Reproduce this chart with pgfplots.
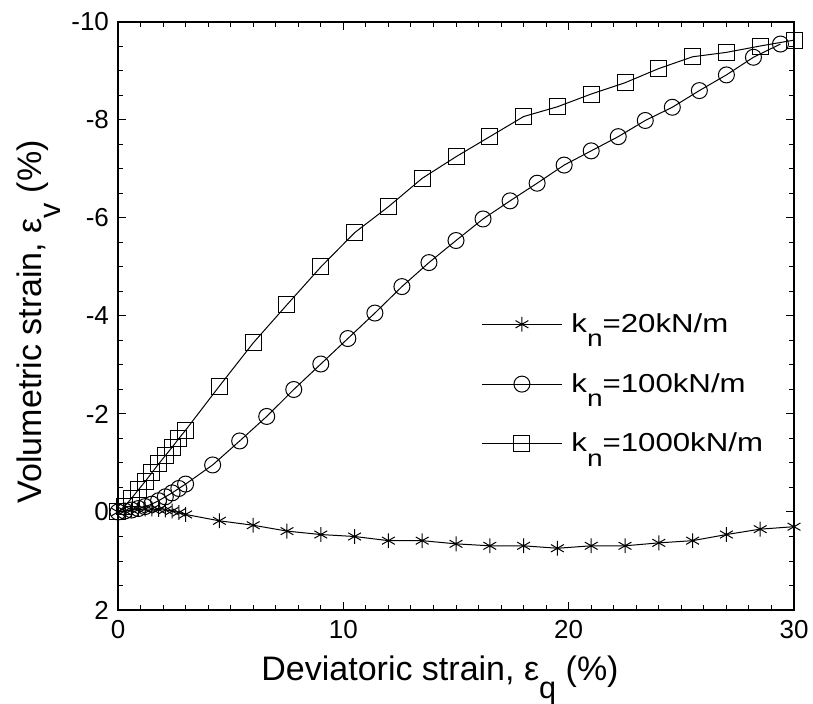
\documentclass[border=0pt]{standalone}
\usepackage{fontspec}
\setmainfont{Liberation Sans}
\newfontfamily\legfont{Liberation Sans}[FakeStretch=1.2]
\usepackage{pgfplots}
\pgfplotsset{compat=1.18}

\newcommand{\sub}[1]{\raisebox{-0.55em}{\scalebox{0.9}{#1}}}

\begin{document}
\begin{tikzpicture}
\begin{axis}[
    scale only axis,
    width=338pt,
    height=294pt,
    xmin=0, xmax=30,
    ymin=-10, ymax=2,
    y dir=reverse,
    xtick={0,10,20,30},
    ytick={-10,-8,-6,-4,-2,0,2},
    minor x tick num=9,
    minor y tick num=3,
    tick align=inside,
    major tick length=4pt,
    minor tick length=2.5pt,
    tick style={black, line width=0.5pt},
    axis line style={line width=0.8pt},
    /pgf/number format/assume math mode=true,
    ticklabel style={font=\fontsize{13}{15}\selectfont},
    xticklabel style={yshift=-1.5pt},
    yticklabel style={xshift=-1pt},
    label style={font=\fontsize{17}{20}\selectfont},
    xlabel={Deviatoric strain, ε\sub{q} (\%)},
    ylabel={Volumetric strain, ε\sub{v} (\%)},
    xlabel style={at={([xshift=-8pt,yshift=-35pt]axis description cs:0.5,0)}, anchor=base},
    ylabel style={at={([xshift=-38pt]axis description cs:0,0.49)}, anchor=base},
    clip=false,
    legend style={
        draw=none,
        fill=none,
        inner sep=0pt,
        at={(0.537,0.512)},
        anchor=north west,
        font=\legfont\fontsize{13}{15}\selectfont,
        row sep=15pt,
        legend cell align=left,
        /tikz/every odd column/.append style={column sep=2.5pt}
    },
    legend image code/.code={
        \draw[mark repeat=2,mark phase=2,#1] plot coordinates {(0pt,0pt) (20pt,0pt) (40pt,0pt)};
    },
]

\addplot[black, line width=0.5pt, mark=asterisk, mark size=3.7pt] coordinates {
(0,0) (0.3,-0.02) (0.6,-0.04) (0.9,-0.05) (1.2,-0.06) (1.5,-0.06) (1.8,-0.05)
(2.1,-0.04) (2.4,-0.02) (2.7,0.01) (3.0,0.05) (4.5,0.18) (6.0,0.27) (7.5,0.39)
(9.0,0.46) (10.5,0.50) (12.0,0.585) (13.5,0.585) (15.0,0.65) (16.5,0.69)
(18.0,0.69) (19.5,0.74) (21.0,0.69) (22.5,0.69) (24.0,0.63) (25.5,0.585)
(27.0,0.46) (28.5,0.35) (30.0,0.30)};
\addlegendentry{k\sub{n}=20kN/m}

\addplot[black, line width=0.5pt, mark=o, mark size=4pt] coordinates {
(0,0) (0.3,-0.02) (0.6,-0.04) (0.9,-0.07) (1.2,-0.11) (1.5,-0.16) (1.8,-0.23)
(2.1,-0.31) (2.4,-0.39) (2.7,-0.48) (3.0,-0.57) (4.2,-0.96) (5.4,-1.45)
(6.6,-1.95) (7.8,-2.50) (9.0,-3.02) (10.2,-3.54) (11.4,-4.06) (12.6,-4.60)
(13.8,-5.09) (15.0,-5.54) (16.2,-5.98) (17.4,-6.35) (18.6,-6.71) (19.8,-7.08)
(21.0,-7.37) (22.2,-7.66) (23.4,-7.99) (24.6,-8.26) (25.8,-8.60) (27.0,-8.92)
(28.2,-9.28) (29.4,-9.55)};
\addlegendentry{k\sub{n}=100kN/m}

\addplot[black, line width=0.5pt, mark=square, mark size=4pt] coordinates {
(0,0) (0.3,-0.12) (0.6,-0.28) (0.9,-0.45) (1.2,-0.62) (1.5,-0.80) (1.8,-0.98)
(2.1,-1.15) (2.4,-1.32) (2.7,-1.50) (3.0,-1.67) (4.5,-2.57) (6.0,-3.45)
(7.5,-4.23) (9.0,-5.00) (10.5,-5.70) (12.0,-6.23) (13.5,-6.81) (15.0,-7.25)
(16.5,-7.66) (18.0,-8.07) (19.5,-8.27) (21.0,-8.53) (22.5,-8.76) (24.0,-9.05)
(25.5,-9.29) (27.0,-9.38) (28.5,-9.51) (30.0,-9.63)};
\addlegendentry{k\sub{n}=1000kN/m}

\end{axis}
\pgfresetboundingbox
\path[use as bounding box] (-59pt,-47pt) rectangle (347.5pt,305pt);
\end{tikzpicture}
\end{document}
